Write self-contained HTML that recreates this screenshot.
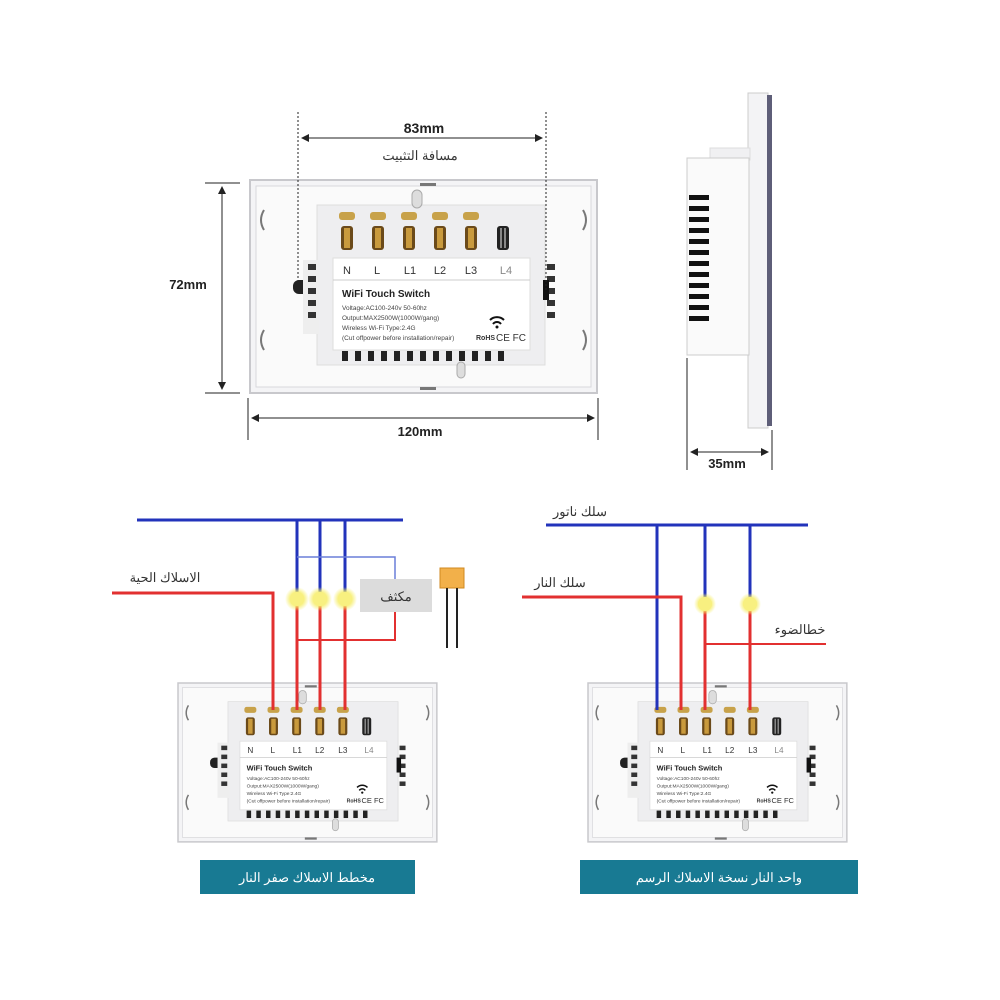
<!DOCTYPE html>
<html><head><meta charset="utf-8"><style>
html,body{margin:0;padding:0;background:#fff}
svg{display:block}
text{font-family:"Liberation Sans","Noto Sans CJK SC",sans-serif}
</style></head><body>
<svg width="1000" height="1000" viewBox="0 0 1000 1000" xmlns="http://www.w3.org/2000/svg">
<defs>
<marker id="ar" markerWidth="8" markerHeight="8" refX="7" refY="4" orient="auto-start-reverse"><path d="M0,0 L8,4 L0,8 z" fill="#222"/></marker>
<radialGradient id="glow"><stop offset="0" stop-color="#fff9b0"/><stop offset="0.5" stop-color="#f6ee6a"/><stop offset="1" stop-color="#f6ee6a" stop-opacity="0"/></radialGradient>
<g id="sw">
  <rect x="0" y="0" width="347" height="213" fill="#f4f4f6" stroke="#c8c8cc" stroke-width="2"/>
  <rect x="6" y="6" width="335" height="201" fill="#fafafa" stroke="#d8d8dc"/>
  <path d="M14,30 q-6,10 0,20 M14,150 q-6,10 0,20 M333,30 q6,10 0,20 M333,150 q6,10 0,20" stroke="#777" stroke-width="2" fill="none"/>
  <rect x="170" y="3" width="16" height="3" fill="#777"/><rect x="170" y="207" width="16" height="3" fill="#777"/>
  <rect x="43" y="100" width="18" height="14" rx="6" fill="#222"/>
  <rect x="67" y="25" width="228" height="160" fill="#eeeef0" stroke="#ddd"/>
  <rect x="53" y="80" width="16" height="74" fill="#eee"/>
  <g fill="#333"><rect x="58" y="84" width="8" height="6"/><rect x="58" y="96" width="8" height="6"/><rect x="58" y="108" width="8" height="6"/><rect x="58" y="120" width="8" height="6"/><rect x="58" y="132" width="8" height="6"/>
  <rect x="297" y="84" width="8" height="6"/><rect x="297" y="96" width="8" height="6"/><rect x="297" y="108" width="8" height="6"/><rect x="297" y="120" width="8" height="6"/><rect x="297" y="132" width="8" height="6"/></g>
  <rect x="293" y="100" width="6" height="20" fill="#111"/>
  <g>
    <rect x="89" y="32" width="16" height="8" rx="3" fill="#c8a24a"/><rect x="91" y="46" width="12" height="24" rx="3" fill="#6b4a1a"/><rect x="94" y="48" width="6" height="20" fill="#c99a3d"/>
    <rect x="120" y="32" width="16" height="8" rx="3" fill="#c8a24a"/><rect x="122" y="46" width="12" height="24" rx="3" fill="#6b4a1a"/><rect x="125" y="48" width="6" height="20" fill="#c99a3d"/>
    <rect x="151" y="32" width="16" height="8" rx="3" fill="#c8a24a"/><rect x="153" y="46" width="12" height="24" rx="3" fill="#6b4a1a"/><rect x="156" y="48" width="6" height="20" fill="#c99a3d"/>
    <rect x="182" y="32" width="16" height="8" rx="3" fill="#c8a24a"/><rect x="184" y="46" width="12" height="24" rx="3" fill="#6b4a1a"/><rect x="187" y="48" width="6" height="20" fill="#c99a3d"/>
    <rect x="213" y="32" width="16" height="8" rx="3" fill="#c8a24a"/><rect x="215" y="46" width="12" height="24" rx="3" fill="#6b4a1a"/><rect x="218" y="48" width="6" height="20" fill="#c99a3d"/>
    <rect x="247" y="46" width="12" height="24" rx="3" fill="#222"/><rect x="250" y="48" width="2" height="20" fill="#888"/><rect x="254" y="48" width="2" height="20" fill="#888"/>
  </g>
  <rect x="162" y="10" width="10" height="18" rx="5" fill="#ddd" stroke="#aaa"/>
  <rect x="83" y="78" width="197" height="92" fill="#fff" stroke="#ddd"/>
  <line x1="83" y1="100" x2="280" y2="100" stroke="#ccc"/>
  <g font-size="11" fill="#333" text-anchor="middle"><text x="97" y="94">N</text><text x="127" y="94">L</text><text x="160" y="94">L1</text><text x="190" y="94">L2</text><text x="221" y="94">L3</text><text x="256" y="94" fill="#888">L4</text></g>
  <text x="92" y="117" font-size="10" font-weight="bold" fill="#222">WiFi Touch Switch</text>
  <g font-size="6.5" fill="#444"><text x="92" y="130">Voltage:AC100-240v 50-60hz</text><text x="92" y="140">Output:MAX2500W(1000W/gang)</text><text x="92" y="150">Wireless Wi-Fi Type:2.4G</text><text x="92" y="160">(Cut offpower before installation/repair)</text></g>
  <text x="226" y="160" font-size="7" font-weight="bold" fill="#333">RoHS</text><text x="246" y="161" font-size="10" fill="#333">CE FC</text>
  <path d="M240,140 a10,10 0 0 1 14,0 M243,144 a5,5 0 0 1 8,0" stroke="#111" stroke-width="2" fill="none"/><circle cx="247" cy="147" r="1.5" fill="#111"/>
  <g fill="#222"><rect x="92" y="171" width="6" height="10"/><rect x="105" y="171" width="6" height="10"/><rect x="118" y="171" width="6" height="10"/><rect x="131" y="171" width="6" height="10"/><rect x="144" y="171" width="6" height="10"/><rect x="157" y="171" width="6" height="10"/><rect x="170" y="171" width="6" height="10"/><rect x="183" y="171" width="6" height="10"/><rect x="196" y="171" width="6" height="10"/><rect x="209" y="171" width="6" height="10"/><rect x="222" y="171" width="6" height="10"/><rect x="235" y="171" width="6" height="10"/><rect x="248" y="171" width="6" height="10"/></g>
  <rect x="207" y="182" width="8" height="16" rx="4" fill="#ddd" stroke="#aaa"/>
</g>
</defs>

<!-- top switch -->
<use href="#sw" x="250" y="180"/>
<!-- dims -->
<line x1="298" y1="112" x2="298" y2="290" stroke="#222" stroke-dasharray="2,2"/>
<line x1="546" y1="112" x2="546" y2="292" stroke="#222" stroke-dasharray="2,2"/>
<line x1="302" y1="138" x2="542" y2="138" stroke="#222" marker-start="url(#ar)" marker-end="url(#ar)"/>
<text x="424" y="133" font-size="14" font-weight="bold" text-anchor="middle" fill="#222">83mm</text>
<text x="420" y="160" font-size="13" text-anchor="middle" fill="#333">مسافة التثبيت</text>
<line x1="205" y1="183" x2="240" y2="183" stroke="#222"/><line x1="205" y1="393" x2="240" y2="393" stroke="#222"/>
<line x1="222" y1="187" x2="222" y2="389" stroke="#222" marker-start="url(#ar)" marker-end="url(#ar)"/>
<text x="188" y="289" font-size="13" font-weight="bold" text-anchor="middle" fill="#222">72mm</text>
<line x1="248" y1="398" x2="248" y2="440" stroke="#222"/><line x1="598" y1="398" x2="598" y2="440" stroke="#222"/>
<line x1="252" y1="418" x2="594" y2="418" stroke="#222" marker-start="url(#ar)" marker-end="url(#ar)"/>
<text x="420" y="436" font-size="13" font-weight="bold" text-anchor="middle" fill="#222">120mm</text>

<!-- side view -->
<rect x="748" y="93" width="20" height="335" fill="#f3f3f5" stroke="#ccc"/>
<rect x="767" y="95" width="5" height="331" fill="#5e5e78"/>
<rect x="710" y="148" width="40" height="12" fill="#f0f0f2" stroke="#ddd"/>
<rect x="687" y="158" width="62" height="197" fill="#fafafa" stroke="#ccc"/>
<g fill="#111"><rect x="689" y="195" width="20" height="5"/><rect x="689" y="206" width="20" height="5"/><rect x="689" y="217" width="20" height="5"/><rect x="689" y="228" width="20" height="5"/><rect x="689" y="239" width="20" height="5"/><rect x="689" y="250" width="20" height="5"/><rect x="689" y="261" width="20" height="5"/><rect x="689" y="272" width="20" height="5"/><rect x="689" y="283" width="20" height="5"/><rect x="689" y="294" width="20" height="5"/><rect x="689" y="305" width="20" height="5"/><rect x="689" y="316" width="20" height="5"/></g>
<line x1="687" y1="358" x2="687" y2="470" stroke="#222"/><line x1="772" y1="430" x2="772" y2="470" stroke="#222"/>
<line x1="691" y1="452" x2="768" y2="452" stroke="#222" marker-start="url(#ar)" marker-end="url(#ar)"/>
<text x="727" y="468" font-size="13" font-weight="bold" text-anchor="middle" fill="#222">35mm</text>

<!-- bottom switches -->
<use href="#sw" transform="translate(178,683) scale(0.746)"/>
<use href="#sw" transform="translate(588,683) scale(0.746)"/>

<!-- left wiring -->
<g fill="none" stroke-width="3">
<line x1="137" y1="520" x2="403" y2="520" stroke="#2233bb"/>
<path d="M297,520 V593 M320,520 V593 M345,520 V593" stroke="#2233bb"/>
<path d="M297,557 H395 V580" stroke="#6a7fd8" stroke-width="1.5"/>
<path d="M112,593 H273 V710" stroke="#e23030"/>
<path d="M297,605 V710 M320,605 V710 M345,605 V710" stroke="#e23030"/>
<path d="M297,640 H395 V612" stroke="#e23030" stroke-width="2"/>
</g>
<circle cx="297" cy="599" r="12" fill="url(#glow)"/><circle cx="320" cy="599" r="12" fill="url(#glow)"/><circle cx="345" cy="599" r="12" fill="url(#glow)"/>
<circle cx="297" cy="599" r="7" fill="#f8f080"/><circle cx="320" cy="599" r="7" fill="#f8f080"/><circle cx="345" cy="599" r="7" fill="#f8f080"/>
<rect x="360" y="579" width="72" height="33" fill="#dcdcdc"/>
<text x="396" y="601" font-size="13" text-anchor="middle" fill="#333">مكثف</text>
<rect x="440" y="568" width="24" height="20" fill="#f2b04a" stroke="#d08a20"/>
<path d="M447,588 V648 M457,588 V648" stroke="#222" stroke-width="2"/>
<text x="165" y="582" font-size="13" text-anchor="middle" fill="#333">الاسلاك الحية</text>

<!-- right wiring -->
<g fill="none" stroke-width="3">
<line x1="546" y1="525" x2="808" y2="525" stroke="#2233bb"/>
<path d="M657,525 V710 M705,525 V598 M750,525 V598" stroke="#2233bb"/>
<path d="M522,597 H681 V710" stroke="#e23030"/>
<path d="M705,610 V710 M750,610 V710" stroke="#e23030"/>
<path d="M705,644 H826" stroke="#e23030" stroke-width="2"/>
</g>
<circle cx="705" cy="604" r="11" fill="url(#glow)"/><circle cx="750" cy="604" r="11" fill="url(#glow)"/>
<circle cx="705" cy="604" r="7" fill="#f8f080"/><circle cx="750" cy="604" r="7" fill="#f8f080"/>
<text x="580" y="516" font-size="13" text-anchor="middle" fill="#333">سلك ناتور</text>
<text x="560" y="587" font-size="13" text-anchor="middle" fill="#333">سلك النار</text>
<text x="800" y="634" font-size="13" text-anchor="middle" fill="#333">خطالضوء</text>

<!-- banners -->
<rect x="200" y="860" width="215" height="34" fill="#187a93"/>
<text x="307" y="882" font-size="13" text-anchor="middle" fill="#fff">مخطط الاسلاك صفر النار</text>
<rect x="580" y="860" width="278" height="34" fill="#187a93"/>
<text x="719" y="882" font-size="13" text-anchor="middle" fill="#fff">واحد النار نسخة الاسلاك الرسم</text>
</svg>
</body></html>
